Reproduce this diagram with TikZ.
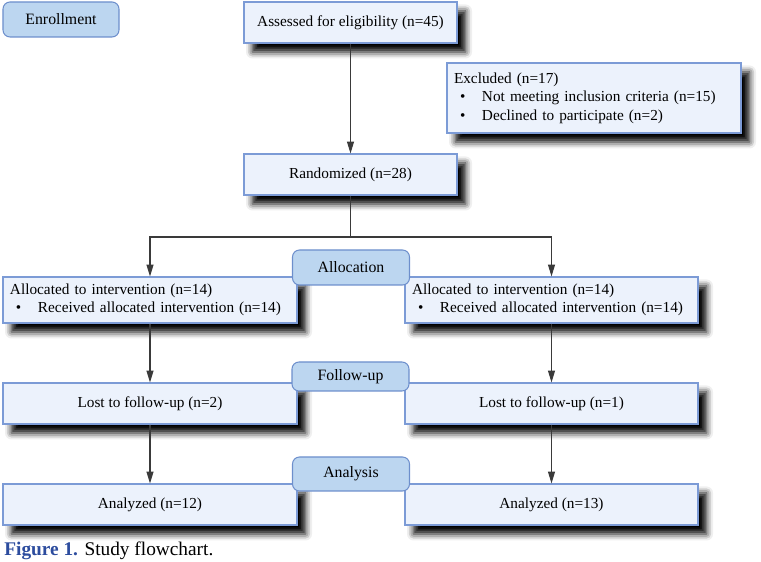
\documentclass[tikz,border=0pt]{standalone}
\usepackage{fontspec}
\setmainfont{Liberation Serif}
\usepackage{xcolor}
\usepackage{tikz}
\usetikzlibrary{arrows.meta,positioning,shadows.blur}
\definecolor{boxfill}{HTML}{ECF2FC}
\definecolor{boxedge}{HTML}{7C9BD6}
\definecolor{tagfill}{HTML}{BCD6F0}
\definecolor{tagedge}{HTML}{6D8FCC}
\definecolor{capblue}{HTML}{2C4C9E}
\definecolor{wire}{HTML}{3A3A3A}
\newcommand{\bul}{\hspace*{0.12cm}\makebox[0.44cm][l]{\textbullet}}

\begin{document}
\begin{tikzpicture}[x=1cm,y=1cm,
  font=\fontsize{8.7}{10.6}\selectfont,
  box/.style={draw=boxedge,fill=boxfill,line width=0.6pt,inner xsep=0.14cm,
    minimum height=0.82cm,
    blur shadow={shadow xshift=0.17cm,shadow yshift=-0.18cm,
      shadow blur radius=0.13cm,shadow opacity=100}},
  tag/.style={draw=tagedge,fill=tagfill,line width=0.6pt,rounded corners=0.14cm,
    minimum width=2.34cm,font=\fontsize{9}{11}\selectfont},
  arrow/.style={draw=wire,line width=0.6pt,-{Triangle[width=4pt,length=6.8pt]}}]
  \useasboundingbox (0,0) rectangle (15.22,11.24);

  % enrollment
  \node[tag,minimum width=2.32cm,minimum height=0.70cm] (enroll) at (1.22,10.85)
    {Enrollment};
  \node[box,minimum width=4.26cm] (assess) at (7.01,10.79)
    {Assessed for eligibility (n=45)};
  \node[box,minimum height=1.40cm,text width=5.60cm,align=left] (excl) at (11.88,9.28)
    {Excluded (n=17)\\
     \bul Not meeting inclusion criteria (n=15)\\
     \bul Declined to participate (n=2)};
  \node[box,minimum width=4.26cm] (rand) at (7.01,7.75)
    {Randomized (n=28)};
  \coordinate (split) at (7.01,6.50);

  % allocation
  \node[box,minimum height=0.92cm,text width=5.60cm,align=left] (allocL) at (3.00,5.24)
    {Allocated to intervention (n=14)\\
     \bul Received allocated intervention (n=14)};
  \node[box,minimum height=0.92cm,text width=5.58cm,align=left] (allocR) at (11.03,5.24)
    {Allocated to intervention (n=14)\\
     \bul Received allocated intervention (n=14)};
  \node[tag,minimum height=0.70cm] (tagAlloc) at (7.02,5.89) {Allocation};

  % follow-up
  \node[box,minimum width=5.88cm] (lostL) at (3.00,3.17) {Lost to follow-up (n=2)};
  \node[box,minimum width=5.86cm] (lostR) at (11.03,3.17) {Lost to follow-up (n=1)};
  \node[tag,minimum height=0.58cm] (tagFollow) at (7.01,3.71) {Follow-up};

  % analysis
  \node[box,minimum width=5.88cm] (anaL) at (3.00,1.15) {Analyzed (n=12)};
  \node[box,minimum width=5.86cm] (anaR) at (11.03,1.15) {Analyzed (n=13)};
  \node[tag,minimum height=0.68cm] (tagAna) at (7.02,1.76) {Analysis};

  \draw[arrow] (assess) -- (rand);
  \draw[draw=wire,line width=0.6pt] (rand) -- (split);
  \draw[arrow] (split) -| (allocL);
  \draw[arrow] (split) -| (allocR);
  \draw[arrow] (allocL) -- (lostL);
  \draw[arrow] (allocR) -- (lostR);
  \draw[arrow] (lostL) -- (anaL);
  \draw[arrow] (lostR) -- (anaR);

  \node[anchor=base west,inner sep=0pt,font=\fontsize{11}{13}\selectfont] (caption) at (0.08,0.12)
    {\textcolor{capblue}{\textbf{Figure 1.}} Study flowchart.};
\end{tikzpicture}
\end{document}
